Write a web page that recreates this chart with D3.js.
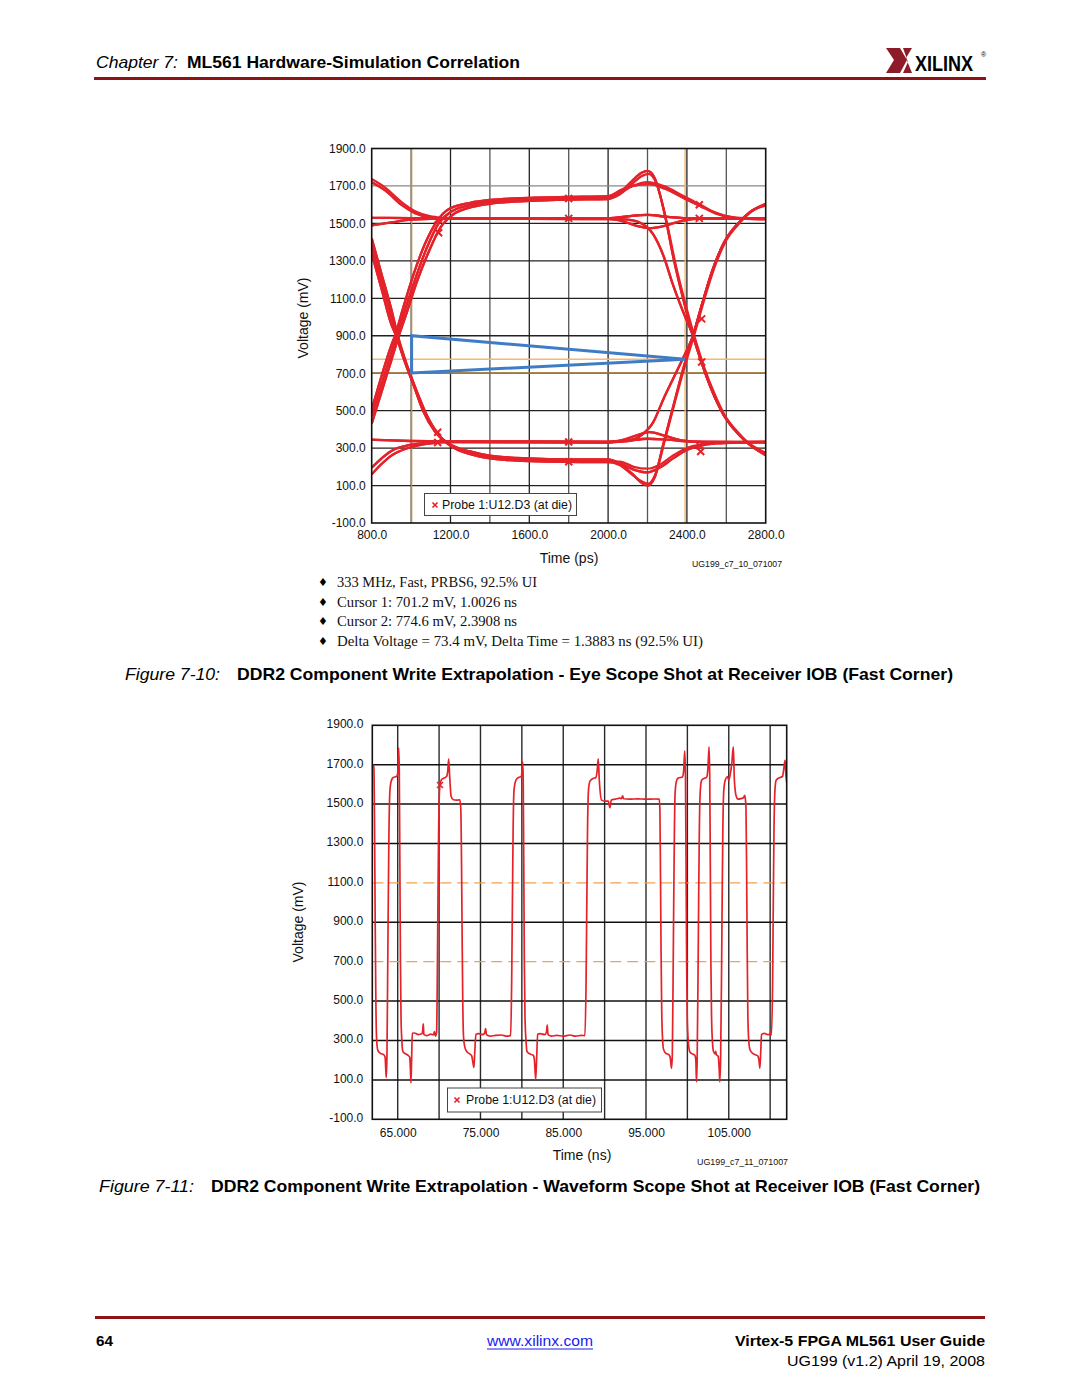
<!DOCTYPE html>
<html><head><meta charset="utf-8">
<script src="https://cdn.jsdelivr.net/npm/d3@7"></script>
<style>body{margin:0;background:#fff}svg{display:block}</style>
</head><body>
<script>
// ---------------- DATA ----------------
// Eye diagram (Figure 7-10): axes
const eyeXTicks = [800, 1200, 1600, 2000, 2400, 2800];
const eyeXGrid = [1000, 1200, 1400, 1600, 1800, 2000, 2200, 2400, 2600];
const eyeYTicks = [-100, 100, 300, 500, 700, 900, 1100, 1300, 1500, 1700, 1900];
const eyeYGrid = [100, 300, 500, 700, 900, 1100, 1300, 1500, 1700];
// cursors
const cursorTimes = [1002.6, 2390.8];     // ps
const cursorVolts = [701.2, 774.6];       // mV
const eyeTriangle = [[1002.6, 900], [1002.6, 701.2], [2390.8, 774.6]];

// Eye trace pieces, [ps, mV] (left piece 800-2000, right piece 2000-2800)
const riseA = [[800,470],[850,640],[900,810],[927,900],[970,1040],[1020,1200],[1080,1370],[1140,1500],[1200,1560],[1300,1598],[1400,1617],[1600,1628],[1800,1633],[2000,1637]];
const riseB = [[800,430],[850,600],[900,770],[935,890],[980,1030],[1030,1190],[1090,1350],[1150,1480],[1210,1545],[1300,1585],[1400,1605],[1600,1620],[1800,1627],[2000,1630]];
const riseC = [[800,505],[850,685],[900,850],[920,905],[960,1050],[1010,1220],[1070,1390],[1130,1510],[1190,1575],[1300,1610],[1400,1625],[1600,1636],[1800,1641],[2000,1645]];
const fallA = [[800,1380],[850,1190],[900,1000],[927,900],[970,760],[1020,620],[1070,490],[1130,380],[1200,315],[1300,275],[1400,252],[1600,238],[1800,233],[2000,232]];
const fallB = [[800,1420],[850,1230],[900,1040],[935,890],[980,740],[1030,600],[1080,475],[1140,370],[1210,305],[1300,268],[1400,245],[1600,230],[1800,226],[2000,225]];
const fallC = [[800,1340],[850,1150],[900,960],[920,910],[965,770],[1015,630],[1060,500],[1120,390],[1190,325],[1300,282],[1400,260],[1600,245],[1800,240],[2000,240]];
const highA = [[800,1530],[1000,1528],[1400,1526],[2000,1527]];
const highB = [[800,1490],[900,1505],[1000,1520],[1200,1526],[2000,1525]];
const highC = [[800,1720],[870,1675],[950,1600],[1020,1555],[1100,1532],[1200,1525],[2000,1523]];
const highD = [[800,1737],[870,1690],[950,1615],[1020,1565],[1100,1538],[1200,1528],[2000,1528]];
const lowA = [[800,345],[1000,338],[1400,333],[2000,332]];
const lowB = [[800,160],[850,215],[900,260],[1000,305],[1100,325],[1200,332],[2000,330]];
const lowC = [[800,195],[850,245],[900,285],[1000,318],[1100,330],[1200,336],[2000,335]];
const peakFallA = [[2000,1637],[2060,1665],[2120,1725],[2170,1770],[2200,1780],[2235,1745],[2285,1560],[2335,1300],[2385,1080],[2431,900],[2480,740],[2530,600],[2585,480],[2640,400],[2700,335],[2800,265]];
const peakFallB = [[2000,1630],[2060,1655],[2120,1710],[2175,1755],[2205,1765],[2245,1715],[2295,1520],[2345,1270],[2395,1060],[2440,890],[2490,725],[2540,590],[2595,470],[2650,395],[2710,330],[2800,275]];
const bumpHighA = [[2000,1637],[2060,1662],[2120,1697],[2200,1720],[2280,1700],[2380,1648],[2460,1605],[2540,1560],[2640,1532],[2800,1525]];
const bumpHighB = [[2000,1645],[2060,1675],[2130,1702],[2210,1710],[2290,1685],[2390,1632],[2470,1592],[2550,1552],[2650,1528],[2800,1522]];
const flatFall = [[2000,1527],[2100,1520],[2170,1500],[2230,1440],[2280,1330],[2330,1170],[2380,1030],[2431,900],[2480,740],[2530,600],[2585,480],[2640,400],[2700,335],[2800,262]];
const flatHigh = [[2000,1527],[2100,1538],[2200,1545],[2300,1535],[2430,1527],[2800,1526]];
const dipHigh = [[2000,1525],[2080,1510],[2150,1485],[2210,1475],[2290,1488],[2380,1515],[2480,1525],[2800,1525]];
const dipRiseA = [[2000,232],[2060,215],[2120,165],[2170,115],[2200,100],[2235,140],[2280,320],[2330,520],[2380,720],[2431,900],[2480,1080],[2530,1250],[2590,1400],[2660,1500],[2720,1560],[2800,1600]];
const dipRiseB = [[2000,225],[2060,208],[2120,160],[2175,120],[2205,110],[2240,160],[2290,350],[2340,550],[2390,740],[2440,915],[2490,1100],[2540,1265],[2600,1410],[2670,1505],[2730,1565],[2800,1595]];
const dipLowA = [[2000,232],[2060,220],[2130,185],[2200,170],[2260,195],[2330,245],[2400,290],[2466,312],[2550,325],[2650,330],[2800,332]];
const dipLowB = [[2000,240],[2060,228],[2130,200],[2200,190],[2260,210],[2330,260],[2400,300],[2470,320],[2550,330],[2800,335]];
const flatRise = [[2000,332],[2100,340],[2170,370],[2230,440],[2280,560],[2330,670],[2380,780],[2431,900],[2480,1080],[2530,1250],[2590,1400],[2660,1500],[2720,1560],[2800,1605]];
const flatLow = [[2000,332],[2100,338],[2200,350],[2300,345],[2430,335],[2800,333]];
const bumpLow = [[2000,330],[2080,345],[2150,370],[2210,385],[2290,365],[2380,340],[2480,332],[2800,330]];

const eyeTraceCombos = [
  ["riseA","peakFallA"],["riseB","peakFallB"],["riseC","peakFallA"],
  ["riseA","bumpHighA"],["riseB","bumpHighB"],["riseC","bumpHighB"],
  ["fallA","dipRiseA"],["fallB","dipRiseB"],["fallC","dipRiseA"],
  ["fallA","dipLowA"],["fallB","dipLowB"],["fallC","dipLowA"],
  ["highA","flatHigh"],["highB","dipHigh"],["highC","flatFall"],["highD","flatHigh"],
  ["highA","flatFall"],["highC","dipHigh"],["highB","flatHigh"],
  ["lowA","flatLow"],["lowB","bumpLow"],["lowC","flatRise"],["lowA","flatRise"],
  ["lowB","flatLow"],["lowC","bumpLow"]
];
const eyeMarkers = [[1135,1520],[1140,1450],[1800,1633],[1800,1527],[2463,1600],[2463,1527],
  [2475,990],[2475,760],[1135,385],[1135,330],[1800,333],[1800,227],[2466,312],[2470,282]];

// Waveform (Figure 7-11): axes
const waveXTicks = [65, 75, 85, 95, 105];
const waveXGrid = [65, 70, 75, 80, 85, 90, 95, 100, 105, 110];
const waveYTicks = [-100, 100, 300, 500, 700, 900, 1100, 1300, 1500, 1700, 1900];
const waveYGrid = [100, 300, 500, 900, 1300, 1500, 1700];
const waveThresholds = [700, 1100];
// Waveform trace [ns, mV]
const waveform = [
[61.95,1700],[62.12,1690],[62.2,1400],[62.28,900],[62.36,500],[62.46,300],[62.6,250],[62.9,235],[63.3,228],[63.48,215],[63.56,150],[63.62,112],[63.7,220],[63.78,600],[63.86,1000],[63.94,1350],[64.05,1560],[64.2,1615],[64.45,1635],[64.85,1640],[64.98,1650],[65.05,1700],[65.12,1786],[65.19,1660],[65.26,1200],[65.33,700],[65.4,420],[65.5,300],[65.62,245],[65.9,233],[66.25,225],[66.45,215],[66.53,160],[66.6,85],[66.68,200],[66.76,337],[67.0,338],[67.5,330],[67.95,335],[68.02,350],[68.09,385],[68.16,330],[68.5,325],[69.0,332],[69.3,328],[69.45,345],[69.55,322],[69.7,340],
[69.78,600],[69.86,1000],[69.94,1350],[70.04,1560],[70.11,1597],[70.3,1625],[70.6,1632],[70.9,1640],[71.05,1670],[71.16,1729],[71.28,1640],[71.45,1540],[71.72,1522],[72.1,1520],[72.5,1522],[72.62,1480],[72.7,1250],[72.78,850],[72.86,500],[72.95,320],[73.1,268],[73.33,245],[73.7,232],[73.94,222],[74.08,190],[74.21,164],[74.3,230],[74.45,332],[74.8,335],[75.3,330],[75.5,338],[75.62,360],[75.72,330],[76.2,322],[76.8,326],[77.5,328],[78.2,322],[78.64,326],
[78.77,600],[78.86,1000],[78.94,1350],[79.05,1570],[79.29,1622],[79.6,1635],[79.95,1640],[80.03,1680],[80.1,1715],[80.16,1640],[80.23,1200],[80.3,700],[80.38,420],[80.5,300],[80.62,245],[80.9,233],[81.38,225],[81.52,200],[81.67,103],[81.78,200],[81.91,332],[82.2,335],[82.8,330],[82.98,345],[83.07,378],[83.16,330],[83.6,322],[84.2,326],[85.0,322],[85.8,328],[86.5,322],[87.2,326],[87.62,325],
[87.76,600],[87.85,1000],[87.93,1350],[88.05,1570],[88.22,1615],[88.6,1630],[88.95,1635],[89.1,1670],[89.23,1730],[89.36,1620],[89.64,1520],[90.0,1515],[90.45,1515],[90.56,1495],[90.64,1482],[90.75,1510],[90.84,1522],[91.3,1525],[91.8,1530],[92.05,1528],[92.17,1542],[92.3,1527],[93.0,1525],[94.0,1527],[95.0,1525],[96.0,1526],[96.6,1525],
[96.68,1470],[96.75,1150],[96.82,750],[96.9,450],[97.0,310],[97.12,255],[97.4,235],[97.75,228],[97.92,215],[98.09,159],[98.18,230],[98.27,600],[98.35,1000],[98.43,1350],[98.52,1560],[98.7,1620],[98.9,1632],[99.4,1638],[99.55,1670],[99.68,1770],[99.77,1640],[99.84,1200],[99.91,700],[99.98,420],[100.1,300],[100.3,242],[100.6,232],[100.9,225],[101.02,200],[101.1,90],[101.18,200],
[101.28,600],[101.36,1000],[101.44,1350],[101.55,1560],[101.71,1620],[102.0,1630],[102.32,1636],[102.48,1680],[102.62,1791],[102.7,1640],[102.77,1200],[102.84,700],[102.92,420],[103.02,300],[103.15,245],[103.35,232],[103.42,245],[103.5,228],[103.72,220],[103.84,160],[103.92,90],[104.02,220],
[104.12,600],[104.2,1000],[104.28,1350],[104.4,1570],[104.6,1625],[104.85,1640],[105.0,1622],[105.15,1645],[105.35,1700],[105.55,1790],[105.68,1620],[105.9,1540],[106.13,1525],[106.5,1528],[106.78,1532],[106.93,1545],[107.02,1520],[107.08,1480],[107.16,1150],[107.23,750],[107.3,450],[107.4,310],[107.55,255],[107.8,238],[108.2,228],[108.5,222],[108.65,200],[108.76,160],[108.86,240],[108.96,330],[109.3,336],[109.7,330],[109.95,330],[110.05,345],[110.15,328],
[110.3,600],[110.38,1000],[110.46,1350],[110.58,1570],[110.72,1620],[111.0,1632],[111.5,1640],[111.65,1680],[111.8,1722],[111.9,1650],[112.0,1610]
];
const waveMarkers = [[70.11,1597]];

// Texts
const bullets = ["333 MHz, Fast, PRBS6, 92.5% UI", "Cursor 1: 701.2 mV, 1.0026 ns",
  "Cursor 2: 774.6 mV, 2.3908 ns", "Delta Voltage = 73.4 mV, Delta Time = 1.3883 ns (92.5% UI)"];
const legendLabel = "Probe 1:U12.D3 (at die)";

// ---------------- DRAWING ----------------
const W = 1080, H = 1397;
const svg = d3.select("body").append("svg").attr("width", W).attr("height", H)
  .style("font-family", "'Liberation Sans', Arial, Helvetica, sans-serif");
svg.append("rect").attr("width", W).attr("height", H).attr("fill", "#fff");

function txt(g, x, y, s, o = {}) {
  const t = g.append("text").attr("x", x).attr("y", y).text(s)
    .attr("font-size", o.size || 12).attr("fill", o.fill || "#000");
  if (o.weight) t.attr("font-weight", o.weight);
  if (o.style) t.attr("font-style", o.style);
  if (o.anchor) t.attr("text-anchor", o.anchor);
  if (o.family) t.attr("font-family", o.family);
  if (o.len) t.attr("textLength", o.len).attr("lengthAdjust", "spacingAndGlyphs");
  return t;
}

// Header
txt(svg, 96, 68, "Chapter 7:", {size: 17, style: "italic", len: 82});
txt(svg, 187, 68, "ML561 Hardware-Simulation Correlation", {size: 17, weight: "bold", len: 333});
svg.append("rect").attr("x", 94).attr("y", 77).attr("width", 892).attr("height", 3).attr("fill", "#8e1416");
// Xilinx logo
const logo = svg.append("g");
logo.append("path").attr("d", "M886,48 L900,48 L907,60 L900,73 L886,73 L894,60 Z").attr("fill", "#8e1b2a");
logo.append("path").attr("d", "M903,48 L912,48 L906,58 L912,73 L903,73 L908,62 Z").attr("fill", "#8e1b2a");
txt(logo, 0, 0, "XILINX", {size: 22, weight: "bold"}).attr("transform", "translate(915,71) scale(0.82,1)");
txt(logo, 981, 57, "®", {size: 7});

// ---------- Chart 1: Eye diagram ----------
const eX = d3.scaleLinear().domain([800, 2800]).range([371.7, 765.7]);
const eY = d3.scaleLinear().domain([-100, 1900]).range([523, 148.5]);
const g1 = svg.append("g");
g1.append("defs").append("clipPath").attr("id", "clipEye").append("rect")
  .attr("x", eX(800)).attr("y", eY(1900)).attr("width", eX(2800) - eX(800)).attr("height", eY(-100) - eY(1900));

g1.selectAll("line.vg").data(eyeXGrid).join("line").attr("class", "vg")
  .attr("x1", d => eX(d)).attr("x2", d => eX(d)).attr("y1", eY(1900)).attr("y2", eY(-100))
  .attr("stroke", d => (d % 400 === 0 ? "#222" : "#555")).attr("stroke-width", 1.3);
g1.selectAll("line.hg").data(eyeYGrid).join("line").attr("class", "hg")
  .attr("y1", d => eY(d)).attr("y2", d => eY(d)).attr("x1", eX(800)).attr("x2", eX(2800))
  .attr("stroke", d => (d === 1700 ? "#888" : "#222")).attr("stroke-width", 1.3);

// cursors
g1.selectAll("line.cv").data(cursorTimes).join("line").attr("class", "cv")
  .attr("x1", d => eX(d)).attr("x2", d => eX(d)).attr("y1", eY(1900)).attr("y2", eY(-100))
  .attr("stroke", (d, i) => i === 0 ? "#c98a3c" : "#f2b46a").attr("stroke-width", 1.4);
g1.selectAll("line.ch").data(cursorVolts).join("line").attr("class", "ch")
  .attr("y1", d => eY(d)).attr("y2", d => eY(d)).attr("x1", eX(800)).attr("x2", eX(2800))
  .attr("stroke", (d, i) => i === 0 ? "#b5823a" : "#f6b872").attr("stroke-width", 1.4);

// eye traces
const pieces = {riseA, riseB, riseC, fallA, fallB, fallC, highA, highB, highC, highD, lowA, lowB, lowC,
  peakFallA, peakFallB, bumpHighA, bumpHighB, flatFall, flatHigh, dipHigh, dipRiseA, dipRiseB, dipLowA, dipLowB,
  flatRise, flatLow, bumpLow};
const eyeTraces = eyeTraceCombos.map(([l, r]) => pieces[l].concat(pieces[r].slice(1)));
const eyeLine = d3.line().x(d => eX(d[0])).y(d => eY(d[1])).curve(d3.curveMonotoneX);
const traceG = g1.append("g").attr("clip-path", "url(#clipEye)");
traceG.selectAll("path.tr").data(eyeTraces).join("path").attr("class", "tr")
  .attr("d", eyeLine).attr("fill", "none").attr("stroke", "#e5222a").attr("stroke-width", 2.3)
  .attr("stroke-linejoin", "round");
const xMark = (x, y, s) => `M${x - s},${y - s}L${x + s},${y + s}M${x - s},${y + s}L${x + s},${y - s}`;
traceG.selectAll("path.mk").data(eyeMarkers).join("path").attr("class", "mk")
  .attr("d", d => xMark(eX(d[0]), eY(d[1]), 3.5)).attr("stroke", "#e5222a").attr("stroke-width", 2);

// blue triangle
g1.append("path").attr("d", d3.line().x(d => eX(d[0])).y(d => eY(d[1]))(eyeTriangle) + "Z")
  .attr("fill", "none").attr("stroke", "#3f7cc6").attr("stroke-width", 3).attr("stroke-linejoin", "miter");

// frame
g1.append("rect").attr("x", eX(800)).attr("y", eY(1900)).attr("width", eX(2800) - eX(800))
  .attr("height", eY(-100) - eY(1900)).attr("fill", "none").attr("stroke", "#111").attr("stroke-width", 1.6);

// axes
const eyeAxL = g1.append("g").attr("transform", `translate(${eX(800) - 3},0)`)
  .call(d3.axisLeft(eY).tickValues(eyeYTicks).tickFormat(d => d.toFixed(1)).tickSize(0));
const eyeAxB = g1.append("g").attr("transform", `translate(0,${eY(-100) + 2})`)
  .call(d3.axisBottom(eX).tickValues(eyeXTicks).tickFormat(d => d.toFixed(1)).tickSize(0));
[eyeAxL, eyeAxB].forEach(a => {
  a.select(".domain").remove();
  a.selectAll("text").attr("font-size", 12).attr("fill", "#111").attr("font-family", "'Liberation Sans', Arial, sans-serif");
});
eyeAxB.selectAll("text").attr("dy", "0.9em");

txt(g1, 0, 0, "Voltage (mV)", {size: 14, anchor: "middle", fill: "#111"})
  .attr("transform", "translate(308,318) rotate(-90)");
txt(g1, 569, 563, "Time (ps)", {size: 14, anchor: "middle", fill: "#111"});
txt(g1, 692, 567, "UG199_c7_10_071007", {size: 8.5, len: 90, fill: "#111"});

// legend
g1.append("rect").attr("x", 424.5).attr("y", 493.5).attr("width", 152).attr("height", 22)
  .attr("fill", "#fff").attr("stroke", "#444").attr("stroke-width", 1);
g1.append("path").attr("d", xMark(435, 505, 2.5)).attr("stroke", "#e5222a").attr("stroke-width", 1.6);
txt(g1, 442, 509, legendLabel, {size: 12, fill: "#111", len: 130});

// bullets
bullets.forEach((b, i) => {
  const y = 587 + i * 19.5;
  txt(svg, 318, y - 1, "♦", {size: 11, family: "'DejaVu Sans', sans-serif"});
  txt(svg, 337, y, b, {size: 14.5, family: "'Liberation Serif', 'DejaVu Serif', serif",
    len: [200, 180, 180, 366][i], fill: "#111"});
});

// caption 1
txt(svg, 125, 680, "Figure 7-10:", {size: 17, style: "italic", len: 95});
txt(svg, 237, 680, "DDR2 Component Write Extrapolation - Eye Scope Shot at Receiver IOB (Fast Corner)",
  {size: 17, weight: "bold", len: 716});

// ---------- Chart 2: waveform ----------
const wX = d3.scaleLinear().domain([61.93, 112.0]).range([372.3, 786.7]);
const wY = d3.scaleLinear().domain([-100, 1900]).range([1119.3, 725.3]);
const g2 = svg.append("g");
g2.append("defs").append("clipPath").attr("id", "clipWave").append("rect")
  .attr("x", wX(61.93)).attr("y", wY(1900)).attr("width", wX(112) - wX(61.93)).attr("height", wY(-100) - wY(1900));

g2.selectAll("line.vg").data(waveXGrid).join("line").attr("class", "vg")
  .attr("x1", d => wX(d)).attr("x2", d => wX(d)).attr("y1", wY(1900)).attr("y2", wY(-100))
  .attr("stroke", "#2a2a2a").attr("stroke-width", 1.4);
g2.selectAll("line.hg").data(waveYGrid).join("line").attr("class", "hg")
  .attr("y1", d => wY(d)).attr("y2", d => wY(d)).attr("x1", wX(61.93)).attr("x2", wX(112))
  .attr("stroke", "#111").attr("stroke-width", 1.5);
g2.selectAll("line.th").data(waveThresholds).join("line").attr("class", "th")
  .attr("y1", d => wY(d)).attr("y2", d => wY(d)).attr("x1", wX(61.93)).attr("x2", wX(112))
  .attr("stroke", "#f4a04e").attr("stroke-width", 1.3).attr("stroke-dasharray", "11,6");

const waveLine = d3.line().x(d => wX(d[0])).y(d => wY(d[1])).curve(d3.curveMonotoneX);
const wG = g2.append("g").attr("clip-path", "url(#clipWave)");
wG.append("path").datum(waveform).attr("d", waveLine).attr("fill", "none")
  .attr("stroke", "#e5222a").attr("stroke-width", 1.7).attr("stroke-linejoin", "round");
wG.selectAll("path.mk").data(waveMarkers).join("path").attr("class", "mk")
  .attr("d", d => xMark(wX(d[0]), wY(d[1]), 3)).attr("stroke", "#e5222a").attr("stroke-width", 1.5);

g2.append("rect").attr("x", wX(61.93)).attr("y", wY(1900)).attr("width", wX(112) - wX(61.93))
  .attr("height", wY(-100) - wY(1900)).attr("fill", "none").attr("stroke", "#111").attr("stroke-width", 1.6);

const wAxL = g2.append("g").attr("transform", `translate(${wX(61.93) - 6},0)`)
  .call(d3.axisLeft(wY).tickValues(waveYTicks).tickFormat(d => d.toFixed(1)).tickSize(0));
const wAxB = g2.append("g").attr("transform", `translate(0,${wY(-100) + 2})`)
  .call(d3.axisBottom(wX).tickValues(waveXTicks).tickFormat(d => d.toFixed(3)).tickSize(0));
[wAxL, wAxB].forEach(a => {
  a.select(".domain").remove();
  a.selectAll("text").attr("font-size", 12).attr("fill", "#111").attr("font-family", "'Liberation Sans', Arial, sans-serif");
});
wAxB.selectAll("text").attr("dy", "1.05em");
wAxL.selectAll("text").attr("dy", "0.2em");

txt(g2, 0, 0, "Voltage (mV)", {size: 14, anchor: "middle", fill: "#111"})
  .attr("transform", "translate(303,922) rotate(-90)");
txt(g2, 582, 1160, "Time (ns)", {size: 14, anchor: "middle", fill: "#111"});
txt(g2, 697, 1165, "UG199_c7_11_071007", {size: 8.5, len: 91, fill: "#111"});

g2.append("rect").attr("x", 447.5).attr("y", 1088).attr("width", 154).attr("height", 24)
  .attr("fill", "#fff").attr("stroke", "#444").attr("stroke-width", 1);
g2.append("path").attr("d", xMark(457, 1100, 2.5)).attr("stroke", "#e5222a").attr("stroke-width", 1.6);
txt(g2, 466, 1104, legendLabel, {size: 12, fill: "#111", len: 130});

// caption 2
txt(svg, 99, 1192, "Figure 7-11:", {size: 17, style: "italic", len: 95});
txt(svg, 211, 1192, "DDR2 Component Write Extrapolation - Waveform Scope Shot at Receiver IOB (Fast Corner)",
  {size: 17, weight: "bold", len: 769});

// Footer
svg.append("rect").attr("x", 95).attr("y", 1316).attr("width", 890).attr("height", 3).attr("fill", "#8e1416");
txt(svg, 96, 1346, "64", {size: 15, weight: "bold", len: 17});
txt(svg, 487, 1346, "www.xilinx.com", {size: 15, fill: "#1a1aee", len: 106});
svg.append("line").attr("x1", 487).attr("x2", 593).attr("y1", 1349).attr("y2", 1349).attr("stroke", "#1a1aee").attr("stroke-width", 1);
txt(svg, 735, 1346, "Virtex-5 FPGA ML561 User Guide", {size: 15, weight: "bold", len: 250});
txt(svg, 787, 1366, "UG199 (v1.2) April 19, 2008", {size: 15, len: 198});
</script></body></html>
